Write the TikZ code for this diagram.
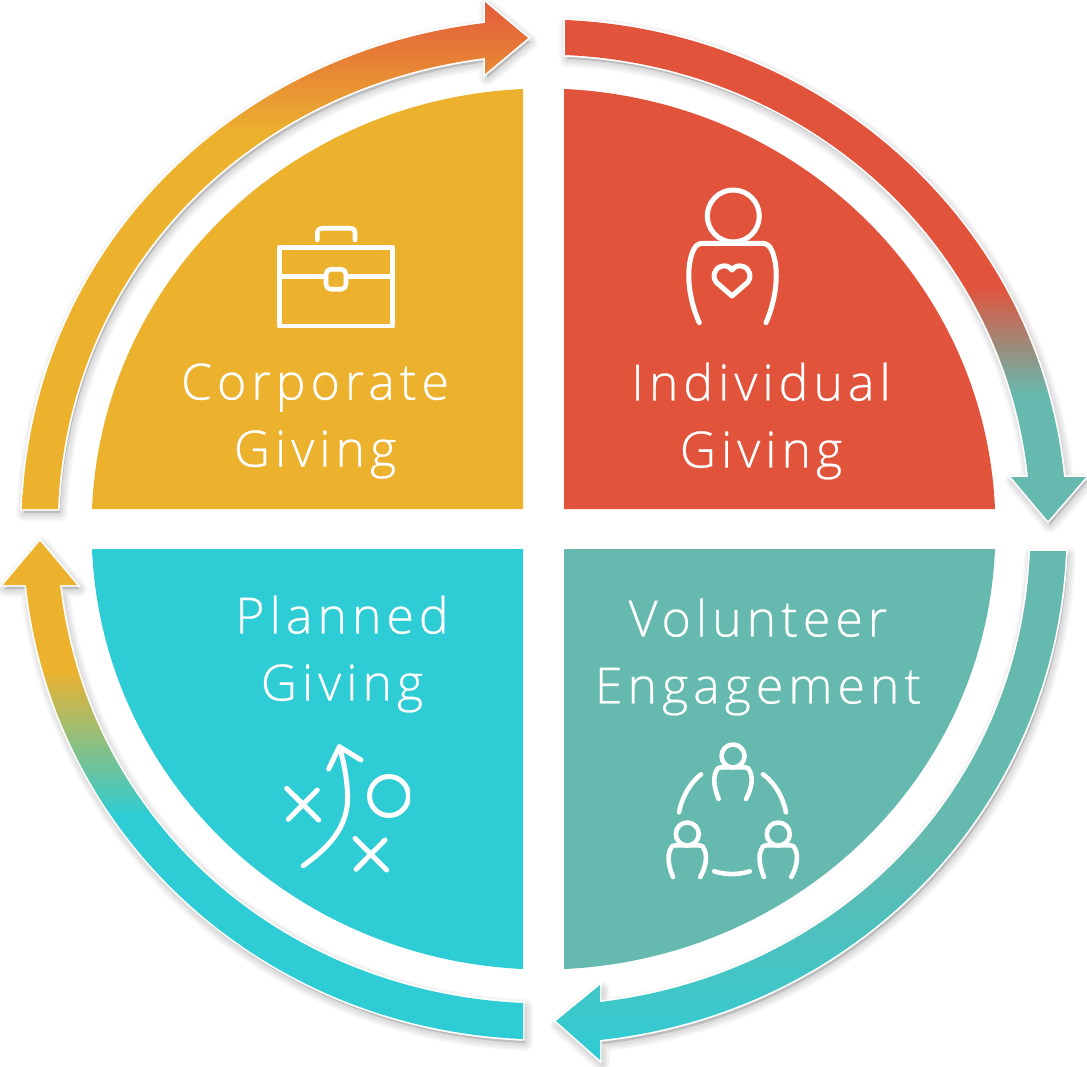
\documentclass[tikz,border=0pt]{standalone}
\usepackage{fontspec}
\newfontfamily\lblfont[LetterSpace=10,FakeBold=0.5]{Open Sans Light}
\definecolor{cred}{HTML}{E2533C}
\definecolor{cgold}{HTML}{ECB22E}
\definecolor{cturq}{HTML}{2ECCD4}
\definecolor{cteal}{HTML}{65B9AE}
\definecolor{corg}{HTML}{E4603B}
% page height mapped to 25..75bp : bp = 75 - y*0.04686
\pgfdeclareverticalshading{gradRed}{100bp}{color(0bp)=(cteal);color(56.5bp)=(cteal);color(61.6bp)=(cred);color(100bp)=(cred)}
\pgfdeclareverticalshading{gradTeal}{100bp}{color(0bp)=(cturq);color(25.3bp)=(cturq);color(35.6bp)=(cteal);color(100bp)=(cteal)}
\pgfdeclareverticalshading{gradTurq}{100bp}{color(0bp)=(cturq);color(36.8bp)=(cturq);color(43.6bp)=(cgold);color(100bp)=(cgold)}
\pgfdeclareverticalshading{gradOrg}{100bp}{color(0bp)=(cgold);color(68.7bp)=(cgold);color(74.5bp)=(corg);color(100bp)=(corg)}
\tikzset{
  x=1pt,y=-1pt,
  iconline/.style={draw=white,line width=5pt,line cap=round,line join=round},
  smallicon/.style={iconline,line width=4.6pt},
  lbl/.style={text=white,font=\lblfont\fontsize{50}{67}\selectfont,align=center,inner sep=0pt},
}
\newcommand{\ringarrow}[2]{%
  \foreach \w in {16,13,10,7,4}{\fill[black,opacity=.028,draw=black,line width=\w pt,line join=round,shift={(2,4)}] #1;}
  \fill[white,draw=white,line width=3.4pt,line join=miter] #1;
  \begin{scope}\clip #1;
    \shade[shading=#2] (0,0) rectangle (1087,1067);
  \end{scope}}
\begin{document}
\begin{tikzpicture}
\useasboundingbox (0,0) rectangle (1087,1067);
\fill[white] (0,0) rectangle (1087,1067);
% sectors
\fill[cred] (564,509) -- (564,89) .. controls (795,99.5) and (985,278) .. (995,509) -- cycle;
\fill[cgold] (523,509) -- (523,89) .. controls (292,99.5) and (102,278) .. (92,509) -- cycle;
\fill[cturq] (523,549) -- (92,549) .. controls (102,780) and (292,958.5) .. (523,969) -- cycle;
\fill[cteal] (564,549) -- (995,549) .. controls (985,780) and (795,958.5) .. (564,969) -- cycle;
% ring arrows
\ringarrow{(565,20) .. controls (822,31) and (1038.4,221.3) .. (1064,477) -- (1086,477) -- (1048,521) -- (1011,477) -- (1028,477) .. controls (1002.5,239.4) and (804,65.6) .. (565,55) -- cycle}{gradRed}
\ringarrow{(1066,551) .. controls (1055,809) and (856.5,1012) .. (600,1040) -- (600,1060) -- (556,1021) -- (600,985) -- (600,1002) .. controls (838,974) and (1020,791) .. (1030,551) -- cycle}{gradTeal}
\ringarrow{(523,1039) .. controls (266,1028.5) and (53.5,840.5) .. (26,585) -- (3,585) -- (40,541) -- (77,585) -- (60,585) .. controls (87.6,823.4) and (283,992.4) .. (523,1003) -- cycle}{gradTurq}
\ringarrow{(22,509) .. controls (32,252) and (230,53) .. (485,23) -- (485,2) -- (528,38) -- (485,74) -- (485,58) .. controls (248,88) and (68,270) .. (58,509) -- cycle}{gradOrg}
% labels
\node[lbl] (corporate) at (315,421) {Corporate\\Giving};
\node[lbl] (individual) at (761,421) {Individual\\Giving};
\node[lbl] (planned) at (342,654) {Planned\\Giving};
\node[lbl] (volunteer) at (758,657) {Volunteer\\Engagement};
% person icon
\draw[iconline] (733.3,216) circle (26);
\draw[iconline] (699.3,322.7) .. controls (689,300) and (685,270) .. (693,251) .. controls (695,246) and (698,243.3) .. (703,243.3) -- (762,243.3) .. controls (767,243.3) and (770,246) .. (772,251) .. controls (780,270) and (776,300) .. (766,322.7);
\draw[iconline] (732,270) .. controls (729,266) and (725,265) .. (721,266.5) .. controls (714,268.5) and (712,277) .. (716,282) -- (732,296) -- (748,282) .. controls (752,277) and (750,268.5) .. (743,266.5) .. controls (739,265) and (735,266) .. (732,270) -- cycle;
% team icon
\foreach \hx/\hy in {733/756,687.3/834,778.3/834}{
  \begin{scope}[shift={(\hx,\hy)}]
    \draw[smallicon] (0,0) circle (11.5);
    \draw[smallicon] (-14.3,43) .. controls (-19,32) and (-20,22) .. (-17,15.5) .. controls (-16,12.5) and (-15,11.3) .. (-12,11.3) -- (12,11.3) .. controls (15,11.3) and (16,12.5) .. (17,15.5) .. controls (20,22) and (19,32) .. (13,43);
  \end{scope}}
\draw[smallicon] (679,812.3) .. controls (682,797) and (690,783) .. (701,774.3);
\draw[smallicon] (763,774.3) .. controls (775,783) and (783,797) .. (786,812.3);
\draw[smallicon] (714.3,871.3) .. controls (726,875) and (738,875) .. (749.7,871.3);
% play icon
\begin{scope}
  \clip (270,730) rectangle (410,880);
  \draw[iconline] (389,796) circle (19.5);
\end{scope}
\draw[iconline] (303.3,865.7) .. controls (325,850) and (343,833) .. (347,807) .. controls (349,790) and (345,765) .. (339.3,746.7);
\draw[iconline] (328.7,769) -- (339.3,746.7) -- (361,760);
\draw[iconline] (286.7,788.3) -- (318.7,820);
\draw[iconline] (317.3,790) -- (288.3,819.3);
\draw[iconline] (355,838.3) -- (386.7,870);
\draw[iconline] (385,840) -- (356,869.3);
% briefcase icon
\draw[smallicon] (279.3,247.7) rectangle (392.7,326);
\draw[smallicon] (317.3,240) -- (317.3,234) .. controls (317.3,230) and (319,228.3) .. (323,228.3) -- (350,228.3) .. controls (354,228.3) and (355,230) .. (355,234) -- (355,240);
\draw[smallicon] (279.3,276.7) -- (326,276.7);
\draw[smallicon] (346,276.7) -- (392.7,276.7);
\draw[smallicon,rounded corners=5pt] (326,269.3) rectangle (346,289.3);
\end{tikzpicture}
\end{document}
